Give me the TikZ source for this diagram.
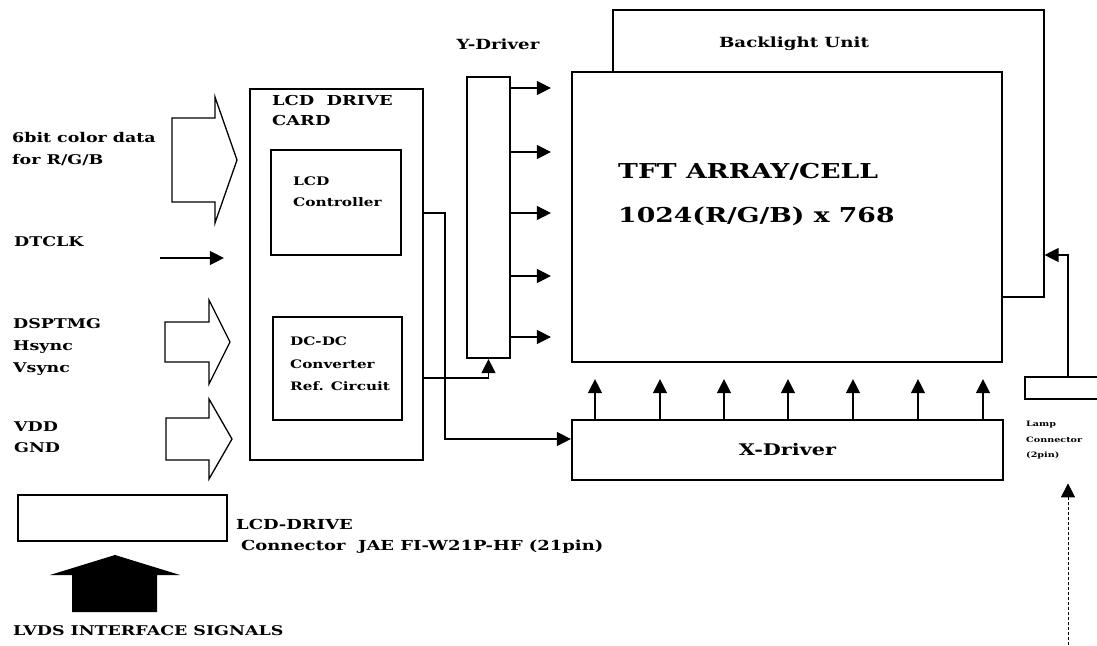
\documentclass[tikz,border=0pt]{standalone}
\usepackage{fontspec}
\setmainfont[FakeStretch=1.3]{DejaVu Serif}
\usetikzlibrary{arrows.meta}

% hollow block arrow pointing right: left x, head base x, tip x, centre y, shaft half, head half
\newcommand{\fatarrow}[6]{%
  \draw[fat] (#1,#4-#5) -- (#2,#4-#5) -- (#2,#4-#6) -- (#3,#4) -- (#2,#4+#6) -- (#2,#4+#5) -- (#1,#4+#5) -- cycle;}

\begin{document}
\begin{tikzpicture}[x=1pt, y=-1pt,
  box/.style={draw, line width=2.2pt, fill=white, inner sep=0pt},
  thinbox/.style={draw, line width=1.1pt, fill=white, inner sep=0pt},
  lbl/.style={font=\bfseries\fontsize{13.4}{22}\selectfont, align=left, inner sep=0pt},
  small/.style={font=\bfseries\fontsize{13.7}{20}\selectfont, align=left, inner sep=0pt},
  sig/.style={-{Triangle[length=14pt,width=14pt]}, line width=1.2pt},
  fat/.style={draw, line width=1.3pt, fill=white, line join=miter}
]
  \useasboundingbox (0,0) rectangle (1097,645);

  % panel
  \node[thinbox, minimum width=431pt, minimum height=287pt] (blu) at (828.5,153.5) {};
  \node[lbl, font=\bfseries\fontsize{14}{16}\selectfont] (blutxt) at (794,44) {Backlight Unit};
  \node[box, minimum width=430pt, minimum height=290pt] (tft) at (787,217) {};
  \node[lbl, font=\bfseries\fontsize{20.5}{44}\selectfont, anchor=west] (tfttxt) at (618,194)
    {TFT ARRAY/CELL\\1024(R/G/B) x 768};
  \node[box, minimum width=431pt, minimum height=60pt] (xdrv) at (787.5,450) {};
  \node[lbl, font=\bfseries\fontsize{16}{18}\selectfont] (xtxt) at (xdrv) {X-Driver};
  \node[box, minimum width=43pt, minimum height=281pt] (ydrv) at (488.5,217.5) {};
  \node[lbl, font=\bfseries\fontsize{14}{16}\selectfont] (ytxt) at (498,44) {Y-Driver};

  % drive card
  \node[box, minimum width=173pt, minimum height=371pt] (card) at (336.5,274.5) {};
  \node[small, anchor=west] (cardtxt) at (272,111) {LCD\ \ DRIVE\\CARD};
  \node[box, minimum width=130pt, minimum height=105pt] (ctrl) at (336,202.5) {};
  \node[small, font=\bfseries\fontsize{11.8}{21}\selectfont, anchor=west] (ctrltxt) at (293,192) {LCD\\Controller};
  \node[box, minimum width=129pt, minimum height=103pt] (dcdc) at (337.5,368.5) {};
  \node[small, font=\bfseries\fontsize{11.7}{22.5}\selectfont, anchor=west] (dcdctxt) at (290,364)
    {DC-DC\\Converter\\Ref. Circuit};

  % inputs
  \node[lbl, anchor=west] (rgbtxt) at (12,149) {6bit color data\\for R/G/B};
  \node[lbl, anchor=west] (clktxt) at (14,242) {DTCLK};
  \node[lbl, anchor=west] (synctxt) at (13,347) {DSPTMG\\Hsync\\Vsync};
  \node[lbl, font=\bfseries\fontsize{13.4}{20.5}\selectfont, anchor=west] (pwrtxt) at (14,437) {VDD\\GND};
  \fatarrow{172}{215}{237}{160}{42}{63}
  \fatarrow{165}{209}{230}{342}{20}{42}
  \fatarrow{166}{209}{232}{439}{21}{40}
  \coordinate (clk) at (160,258);
  \draw[sig] (clk) -- (card.west |- clk) [shorten >=25pt];

  % connector
  \node[box, minimum width=209pt, minimum height=46pt] (conn) at (122.5,518) {};
  \node[small, font=\bfseries\fontsize{13.8}{21}\selectfont, anchor=west] (conntxt) at (236,536)
    {LCD-DRIVE\\\hspace*{5pt}Connector\ \ JAE FI-W21P-HF (21pin)};
  \fill (72,612) -- (72,575) -- (50,575) -- (115,555) -- (180,575) -- (157,575) -- (157,612) -- cycle;
  \node[small, font=\bfseries\fontsize{13.4}{15}\selectfont, anchor=west] (lvdstxt) at (13,631) {LVDS INTERFACE SIGNALS};

  % card to drivers
  \coordinate (bend) at (445,213);
  \draw[sig] (card.east |- bend) -- (bend) |- (xdrv.west |- 0,439);
  \draw[sig] (card.east |- 0,378) -| (ydrv.south);
  \foreach \y in {88,152,213,276,337}
    \draw[sig, shorten >=20pt] (ydrv.east |- 0,\y) -- (tft.west |- 0,\y);
  \foreach \x in {595,660,724,788,853,918,983}
    \draw[sig, shorten >=16pt] (xdrv.north -| \x,0) -- (tft.south -| \x,0);

  % lamp
  \node[box, line width=1.6pt, minimum width=90pt, minimum height=22pt] (lamp) at (1070,388) {};
  \node[small, font=\bfseries\fontsize{7.4}{15.5}\selectfont, anchor=north west] (lamptxt) at (1026,421)
    {Lamp\\Connector\\(2pin)};
  \coordinate (lampup) at (1068,255);
  \draw[sig] (lamp.north -| lampup) -- (lampup) -- (blu.east |- lampup);
  \coordinate (lampin) at (1068,650);
  \draw[sig, densely dashed, line width=0.8pt] (lampin) -- (lamptxt.south -| lampin) [shorten >=24pt];
\end{tikzpicture}
\end{document}
